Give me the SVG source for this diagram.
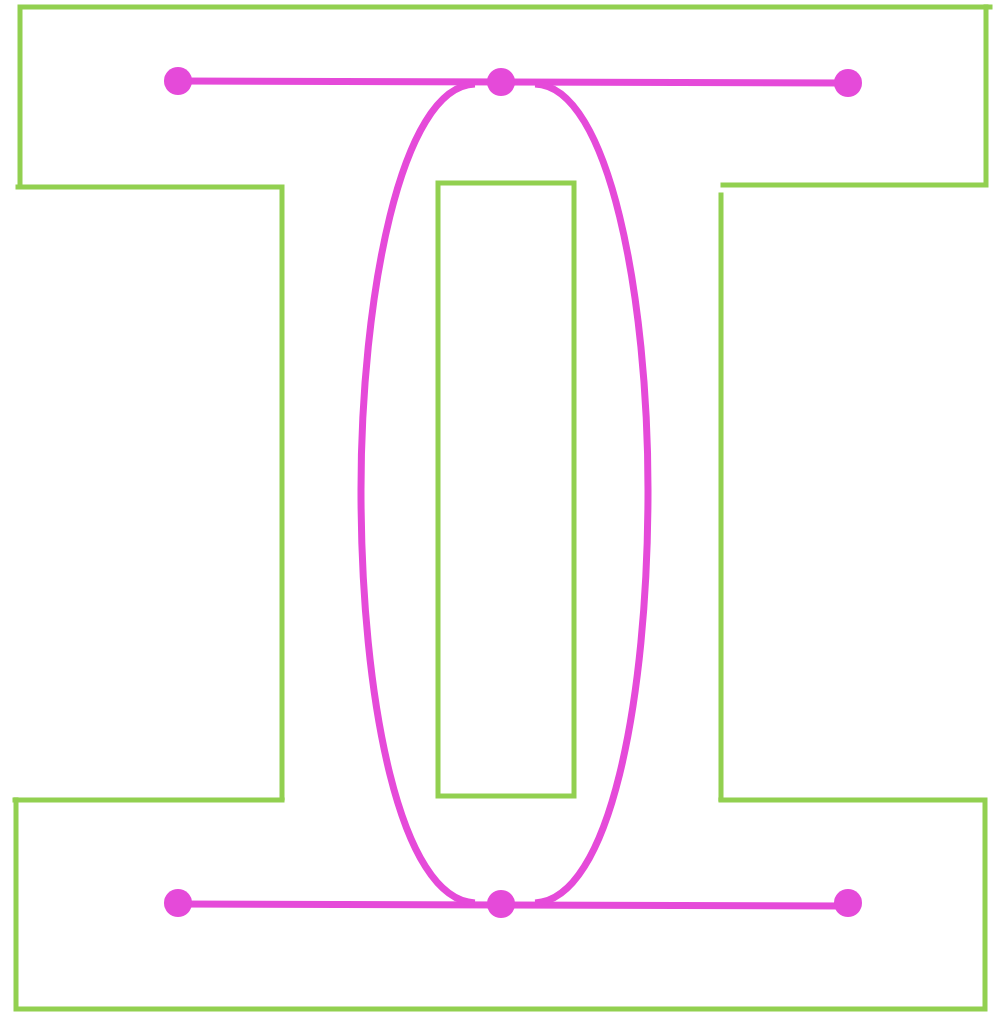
<svg xmlns="http://www.w3.org/2000/svg" width="1000" height="1012" viewBox="0 0 1000 1012">
<style>
.g{fill:none;stroke:#92d050;stroke-width:5;stroke-linecap:square}
.p{fill:none;stroke:#e54ad9;stroke-width:7}
.d{fill:#e54ad9}
</style>
<rect width="1000" height="1012" fill="#fff"/>
<g id="frame">
<polyline class="g" points="20,186 20,7 990,7"/>
<polyline class="g" points="986,7 986,185 723,185"/>
<line class="g" x1="721" y1="195" x2="721" y2="799"/>
<polyline class="g" points="18,187 282,187 282,798"/>
<polyline class="g" points="15,800 282,800"/>
<polyline class="g" points="16,800 16,1009 985,1009 985,800 721,800"/>
<rect class="g" x="438" y="183" width="136" height="613"/>
</g>
<g id="connectors">
<line class="p" x1="178" y1="81" x2="847" y2="83"/>
<line class="p" x1="178" y1="904" x2="847" y2="906"/>
<path class="p" d="M475,84 C400,86 361,300 361,490 C361,700 400,900 475,903"/>
<path class="p" d="M535,84 C610,86 648,300 648,490 C648,700 610,900 535,903"/>
</g>
<g id="dots">
<circle class="d" cx="178" cy="81" r="14"/>
<circle class="d" cx="501" cy="82" r="14"/>
<circle class="d" cx="848" cy="83" r="14"/>
<circle class="d" cx="178" cy="903" r="14"/>
<circle class="d" cx="501" cy="904" r="14"/>
<circle class="d" cx="848" cy="903" r="14"/>
</g>
</svg>
